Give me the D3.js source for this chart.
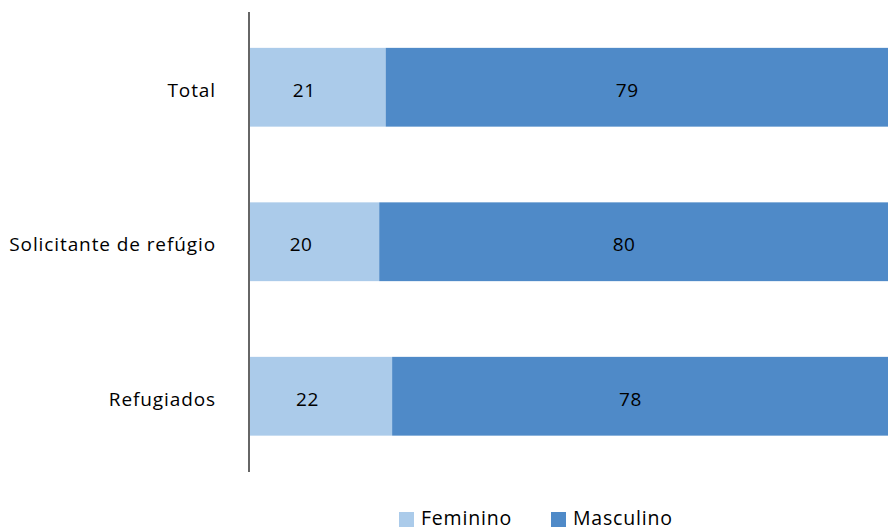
<!DOCTYPE html>
<html><head><meta charset="utf-8">
<script src="https://cdn.jsdelivr.net/npm/d3@7"></script>
<style>body{margin:0;background:#fff}svg{display:block}text{font-family:"Open Sans",sans-serif}</style>
</head><body><svg id="c" width="888" height="530"></svg>
<script>
const categories = ["Total", "Solicitante de refúgio", "Refugiados"];
const feminino = [21, 20, 22];
const masculino = [79, 80, 78];
const seriesNames = ["Feminino", "Masculino"];
const colors = ["#abcbea", "#4f8ac8"];

const svg = d3.select("#c");
const x = d3.scaleLinear().domain([0, 100]).range([250, 896]);
const y = d3.scaleBand().domain(categories).range([10, 473.5]).paddingInner(0.49).paddingOuter(0.245);

const data = categories.map((c, i) => ({cat: c, vals: [feminino[i], masculino[i]]}));
const stack = d3.stack().keys([0, 1]).value((d, k) => d.vals[k])(data);

stack.forEach((layer, k) => {
  svg.append("g").selectAll("rect").data(layer).join("rect")
    .attr("x", d => x(d[0])).attr("width", d => x(d[1]) - x(d[0]))
    .attr("y", d => y(d.data.cat)).attr("height", y.bandwidth())
    .attr("fill", colors[k]);
  svg.append("g").selectAll("text").data(layer).join("text")
    .attr("x", d => (x(d[0]) + x(d[1])) / 2 - 13.5)
    .attr("y", d => y(d.data.cat) + y.bandwidth() / 2 + 3)
    .attr("text-anchor", "middle").attr("dy", "0.35em")
    .attr("font-size", 19).attr("letter-spacing", 0.6).attr("fill", "#000")
    .text(d => d.data.vals[k]);
});

const axis = svg.append("g").attr("transform", "translate(249,0)")
  .call(d3.axisLeft(y).tickSize(0).tickPadding(33));
axis.select(".domain").remove();
axis.selectAll("text").attr("font-size", 19).attr("letter-spacing", 0.9).attr("dy", "0.5em")
  .attr("fill", "#000").attr("font-family", "'Open Sans',sans-serif");
svg.append("line").attr("x1", 249).attr("x2", 249).attr("y1", 12).attr("y2", 472)
  .attr("stroke", "#333").attr("stroke-width", 1.5);

const legX = [399, 551];
seriesNames.forEach((n, i) => {
  svg.append("rect").attr("x", legX[i]).attr("y", 512).attr("width", 15).attr("height", 15).attr("fill", colors[i]);
  svg.append("text").attr("x", legX[i] + 22).attr("y", 525).attr("font-size", 19.5).attr("letter-spacing", 0.8).attr("fill", "#000").text(n);
});
</script></body></html>
